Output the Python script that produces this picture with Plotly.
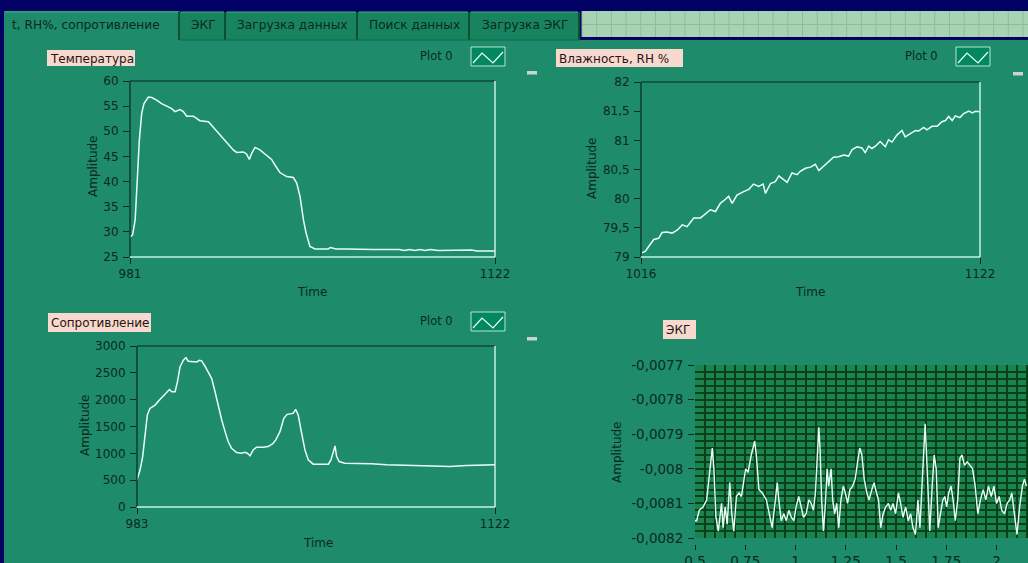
import plotly.graph_objects as go

W, H = 1028, 563
FONT = "DejaVu Sans, Verdana, sans-serif"

# ---------------- data ----------------
temp_time = [981, 982, 983, 983.8, 984.6, 985.5, 986.4, 988.1, 989.4, 991.3, 993.2, 995.2,
             997.1, 998.4, 1000.3, 1001.6, 1002.9, 1005.5, 1008, 1011.3, 1013.2, 1015.8,
             1018.3, 1020.9, 1022.2, 1024.8, 1026, 1027.1, 1028, 1029.3, 1031.2, 1033.8,
             1035.7, 1037, 1038.9, 1041.5, 1044.1, 1045.4, 1046.7, 1048, 1049, 1050.5,
             1052.5, 1055, 1057.6, 1058.4, 1059.6, 1060.6, 1065, 1070, 1075, 1080, 1085,
             1087, 1089, 1091, 1093, 1095, 1097, 1100, 1105, 1110, 1113, 1115, 1122]
temp_value = [29.0, 29.4, 32.4, 40.3, 48.2, 53.5, 55.5, 56.8, 56.7, 56.2, 55.5, 55.0,
              54.5, 53.9, 54.3, 53.9, 53.0, 53.0, 52.1, 51.9, 50.8, 49.2,
              47.9, 46.3, 45.8, 45.9, 45.5, 44.4, 45.6, 46.8, 46.3, 45.3,
              44.4, 43.3, 41.8, 41.0, 40.8, 39.7, 37.0, 32.4, 29.8, 27.1,
              26.6, 26.6, 26.6, 26.9, 26.7, 26.6, 26.6, 26.5, 26.5, 26.5, 26.5,
              26.3, 26.5, 26.3, 26.5, 26.3, 26.5, 26.3, 26.3, 26.3, 26.4, 26.2, 26.2]

hum_time = [1016.3, 1017.4, 1018.4, 1020, 1021.5, 1022.6, 1024.1, 1025.7, 1027.3, 1028.9,
            1030.4, 1032.5, 1034.6, 1036.2, 1037.7, 1039.3, 1040.8, 1042.4, 1043.4, 1044.5,
            1046, 1048.1, 1049.7, 1051.2, 1052.8, 1054.2, 1054.9, 1056.5, 1058, 1059.1,
            1060.6, 1061.7, 1063.2, 1064.8, 1065.8, 1067.4, 1069, 1070.5, 1071.6, 1073.1,
            1074.7, 1076.2, 1077.8, 1079.4, 1080.9, 1082, 1083.5, 1085.1, 1086.1, 1087.2,
            1088.2, 1089.3, 1090.8, 1092.4, 1093.4, 1094.5, 1096, 1097.6, 1098.6, 1100.2,
            1101.8, 1102.8, 1104.4, 1105.4, 1107, 1108.6, 1110.1, 1111.2, 1112.2, 1113.3,
            1114.3, 1115.7, 1116.9, 1118.5, 1119.6, 1120.6, 1122]
hum_value = [79.07, 79.10, 79.18, 79.30, 79.32, 79.42, 79.43, 79.41, 79.46, 79.55,
             79.52, 79.67, 79.67, 79.74, 79.81, 79.78, 79.92, 79.99, 80.04, 79.92,
             80.06, 80.12, 80.16, 80.25, 80.21, 80.25, 80.09, 80.26, 80.29, 80.39,
             80.32, 80.28, 80.44, 80.41, 80.47, 80.52, 80.54, 80.59, 80.48, 80.56,
             80.63, 80.71, 80.72, 80.75, 80.73, 80.84, 80.89, 80.87, 80.79, 80.90,
             80.86, 80.90, 80.98, 80.89, 81.01, 80.97, 81.09, 81.17, 81.06, 81.12,
             81.17, 81.16, 81.22, 81.18, 81.24, 81.24, 81.32, 81.34, 81.41, 81.34,
             81.42, 81.39, 81.46, 81.50, 81.47, 81.50, 81.49]

res_time = [983, 984.2, 985.2, 986.1, 987, 988, 990, 991.9, 993.9, 995.6, 996.5, 997.8,
            998.7, 999.7, 1001, 1002, 1002.9, 1004.9, 1006.2, 1007.2, 1008.1, 1009.4,
            1010.7, 1012, 1013.3, 1014.6, 1015.9, 1017.2, 1018.4, 1019.7, 1021.7, 1023.6,
            1024.9, 1025.8, 1026.9, 1028.1, 1029.4, 1032, 1033.9, 1035.6, 1036.9, 1038.5,
            1040, 1041.3, 1043.6, 1044.6, 1045.6, 1046.8, 1048.2, 1049.5, 1051.4, 1054,
            1057.3, 1058.3, 1059.2, 1059.9, 1060.5, 1061.5, 1063.7, 1069.5, 1074.1, 1079.9,
            1091.5, 1098, 1104.4, 1110.9, 1122]
res_value = [507, 693, 940, 1373, 1713, 1837, 1899, 2004, 2116, 2190, 2147, 2147,
             2332, 2610, 2734, 2784, 2716, 2703, 2703, 2734, 2722, 2623,
             2518, 2394, 2147, 1868, 1621, 1404, 1219, 1095, 1014, 1002,
             1021, 1002, 953, 1064, 1113, 1113, 1126, 1175, 1250, 1404,
             1652, 1726, 1744, 1819, 1713, 1404, 1064, 878, 798, 798,
             798, 878, 1002, 1138, 940, 847, 817, 817, 804, 786,
             773, 755, 755, 773, 786]

ecg_time = [0.500, 0.508, 0.521, 0.541, 0.558, 0.574, 0.586, 0.594, 0.604, 0.616, 0.624,
            0.632, 0.640, 0.650, 0.660, 0.673, 0.683, 0.693, 0.706, 0.719, 0.731, 0.743,
            0.752, 0.764, 0.780, 0.797, 0.805, 0.818, 0.835, 0.855, 0.871, 0.884, 0.898,
            0.909, 0.917, 0.929, 0.942, 0.954, 0.967, 0.979, 0.992, 1.003, 1.016, 1.028,
            1.040, 1.053, 1.066, 1.078, 1.089, 1.099, 1.107, 1.116, 1.122, 1.130, 1.139,
            1.149, 1.157, 1.165, 1.177, 1.185, 1.195, 1.205, 1.215, 1.226, 1.238, 1.248,
            1.259, 1.271, 1.284, 1.297, 1.309, 1.320, 1.330, 1.342, 1.355, 1.366, 1.380,
            1.391, 1.403, 1.413, 1.424, 1.436, 1.449, 1.462, 1.474, 1.485, 1.498, 1.512,
            1.523, 1.535, 1.548, 1.561, 1.573, 1.584, 1.597, 1.609, 1.619, 1.630, 1.639,
            1.645, 1.652, 1.660, 1.668, 1.680, 1.690, 1.700, 1.710, 1.721, 1.733, 1.743,
            1.752, 1.762, 1.774, 1.784, 1.795, 1.807, 1.818, 1.828, 1.841, 1.855, 1.868,
            1.881, 1.894, 1.907, 1.920, 1.934, 1.947, 1.960, 1.974, 1.987, 2.000, 2.013,
            2.026, 2.040, 2.053, 2.066, 2.076, 2.089, 2.102, 2.115, 2.129, 2.139, 2.149]
ecg_value = [-0.00815, -0.00815, -0.00812, -0.00811, -0.00809, -0.00801, -0.00794, -0.00800,
             -0.00814, -0.00818, -0.00813, -0.00810, -0.00817, -0.00811, -0.00816, -0.00804,
             -0.00813, -0.00818, -0.00808, -0.00807, -0.00808, -0.00803, -0.00800, -0.00801,
             -0.00796, -0.00792, -0.00796, -0.00806, -0.00807, -0.00809, -0.00813, -0.00817,
             -0.00810, -0.00804, -0.00809, -0.00815, -0.00813, -0.00815, -0.00812, -0.00814,
             -0.00815, -0.00811, -0.00808, -0.00811, -0.00814, -0.00813, -0.00809, -0.00810,
             -0.00812, -0.00807, -0.00796, -0.00788, -0.00794, -0.00809, -0.00818, -0.00810,
             -0.00800, -0.00805, -0.00800, -0.00809, -0.00813, -0.00810, -0.00817, -0.00809,
             -0.00805, -0.00807, -0.00810, -0.00806, -0.00805, -0.00803, -0.00798, -0.00794,
             -0.00796, -0.00803, -0.00807, -0.00809, -0.00806, -0.00804, -0.00807, -0.00809,
             -0.00817, -0.00813, -0.00811, -0.00810, -0.00812, -0.00810, -0.00813, -0.00807,
             -0.00810, -0.00814, -0.00811, -0.00815, -0.00813, -0.00817, -0.00819, -0.00809,
             -0.00817, -0.00803, -0.00794, -0.00787, -0.00796, -0.00805, -0.00818, -0.00805,
             -0.00796, -0.00800, -0.00817, -0.00813, -0.00809, -0.00808, -0.00811, -0.00807,
             -0.00805, -0.00809, -0.00815, -0.00809, -0.00797, -0.00796, -0.00799, -0.00798,
             -0.00799, -0.00800, -0.00805, -0.00813, -0.00809, -0.00806, -0.00809, -0.00805,
             -0.00808, -0.00805, -0.00810, -0.00808, -0.00812, -0.00813, -0.00810, -0.00809,
             -0.00807, -0.00813, -0.00819, -0.00811, -0.00805, -0.00803, -0.00805]

temp_ticks = [25, 30, 35, 40, 45, 50, 55, 60]
temp_xticks = [981, 1122]
hum_ticks = [79, 79.5, 80, 80.5, 81, 81.5, 82]
hum_ticktext = ["79", "79,5", "80", "80,5", "81", "81,5", "82"]
hum_xticks = [1016, 1122]
res_ticks = [0, 500, 1000, 1500, 2000, 2500, 3000]
res_xticks = [983, 1122]
ecg_ticks = [-0.0082, -0.0081, -0.008, -0.0079, -0.0078, -0.0077]
ecg_ticktext = ["-0,0082", "-0,0081", "-0,008", "-0,0079", "-0,0078", "-0,0077"]
ecg_xticks = [0.5, 0.75, 1, 1.25, 1.5, 1.75, 2]
ecg_xticktext = ["0,5", "0,75", "1", "1,25", "1,5", "1,75", "2"]

tab_labels = ["t, RH%, сопротивление", "ЭКГ", "Загрузка данных", "Поиск данных", "Загрузка ЭКГ"]
graph_titles = ["Температура", "Влажность, RH %", "Сопротивление", "ЭКГ"]
legend_name = "Plot 0"
x_title = "Time"
y_title = "Amplitude"

# ---------------- colours ----------------
NAVY = "#020266"
PANEL = "#1e8b6a"
PLOT_BG = "#03875f"
ECG_BG = "#1a8450"
ECG_GRID = "#0b3f18"
DARK = "#0b2a1c"
LIGHT = "#c4f2e2"
TRACE = "#e8fff6"
LABEL_BG = "#f7d9cf"


def px(x):
    return x / W


def py(y):
    return 1 - y / H


shapes = []
annotations = []


def rect(x0, y0, x1, y1, fill, line=None, lw=0, layer="below"):
    shapes.append(dict(type="rect", xref="paper", yref="paper",
                       x0=px(x0), x1=px(x1), y0=py(y1), y1=py(y0),
                       fillcolor=fill, line=dict(color=line or fill, width=lw), layer=layer))


def seg(x0, y0, x1, y1, color, lw=1, layer="above"):
    shapes.append(dict(type="line", xref="paper", yref="paper",
                       x0=px(x0), x1=px(x1), y0=py(y0), y1=py(y1),
                       line=dict(color=color, width=lw), layer=layer))


def text(x, y, s, size=12, color=DARK, xanchor="left", angle=0):
    annotations.append(dict(x=px(x), y=py(y), xref="paper", yref="paper", text=s,
                            showarrow=False, xanchor=xanchor, yanchor="middle",
                            textangle=angle,
                            font=dict(family=FONT, size=size, color=color)))


# ---------------- front panel ----------------
rect(4, 40, W, H, PANEL)

# tab strip
tab_edges = [(4, 180), (180, 226), (226, 358), (358, 470), (470, 580)]
for i, ((a, b), lab) in enumerate(zip(tab_edges, tab_labels)):
    if i == 0:
        rect(a, 11, b, 42, PANEL)
        text(a + 6, 25, lab, size=12.2)
    else:
        rect(a, 12, b, 40, "#18845f")
        text((a + b) / 2, 25, lab, size=12.2, xanchor="center")
    seg(b - 1, 12, b - 1, 40, "#0c4f37", 2, layer="below")
    seg(a + 1, 12, b - 2, 12, "#3fae86", 1, layer="below")
seg(180, 40, 580, 40, "#0f6a4a", 1, layer="below")

# empty tab area with light grid
rect(582, 11, W, 37, "#a8d3b2")
gx = 582
while gx < W:
    seg(gx, 11, gx, 37, "#8dbd99", 1, layer="below")
    gx += 14.7
seg(582, 24.5, W, 24.5, "#8dbd99", 1, layer="below")

# ---------------- traces ----------------
line_style = dict(color=TRACE, width=1.5)
fig = go.Figure()
fig.add_trace(go.Scatter(x=temp_time, y=temp_value, mode="lines", line=line_style,
                         xaxis="x", yaxis="y", showlegend=False))
fig.add_trace(go.Scatter(x=hum_time, y=hum_value, mode="lines", line=line_style,
                         xaxis="x2", yaxis="y2", showlegend=False))
fig.add_trace(go.Scatter(x=res_time, y=res_value, mode="lines", line=line_style,
                         xaxis="x3", yaxis="y3", showlegend=False))
fig.add_trace(go.Scatter(x=ecg_time, y=ecg_value, mode="lines",
                         line=dict(color=TRACE, width=1.4),
                         xaxis="x4", yaxis="y4", showlegend=False))

tickfont = dict(family=FONT, size=12, color=DARK)


def xax(domain, rng, vals, text_=None, anchor="y"):
    return dict(domain=domain, range=rng, tickmode="array", tickvals=vals,
                ticktext=text_ or [str(v) for v in vals], anchor=anchor,
                showgrid=False, zeroline=False, showline=False, automargin=False,
                ticks="outside", ticklen=6, tickcolor=DARK, tickfont=tickfont,
                fixedrange=True)


def yax(domain, rng, vals, text_=None, anchor="x"):
    return dict(domain=domain, range=rng, tickmode="array", tickvals=vals,
                ticktext=text_ or [str(v) for v in vals], anchor=anchor,
                showgrid=False, zeroline=False, showline=False, automargin=False,
                ticks="outside", ticklen=6, tickcolor=DARK, tickfont=tickfont,
                ticklabelstandoff=2, fixedrange=True)


# plot rectangles (pixel boxes of each graph)
boxes = {
    "temp": (130, 81, 495, 257),
    "hum": (641, 82, 980, 257),
    "res": (137, 346, 495, 507),
    "ecg": (695, 365, W, 538),
}


def dom(b):
    x0, y0, x1, y1 = b
    return [px(x0), min(px(x1), 1)], [py(y1), py(y0)]


tx, ty = dom(boxes["temp"])
hx, hy = dom(boxes["hum"])
rx, ry = dom(boxes["res"])
ex, ey = dom(boxes["ecg"])
ecg_x_end = 0.5 + (W - 695) / 201.0

layout_axes = dict(
    xaxis=xax(tx, [981, 1122], temp_xticks, anchor="y"),
    yaxis=yax(ty, [25, 60], temp_ticks, anchor="x"),
    xaxis2=xax(hx, [1016, 1122], hum_xticks, anchor="y2"),
    yaxis2=yax(hy, [79, 82], hum_ticks, hum_ticktext, anchor="x2"),
    xaxis3=xax(rx, [983, 1122], res_xticks, anchor="y3"),
    yaxis3=yax(ry, [0, 3000], res_ticks, anchor="x3"),
)

ecg_tickfont = dict(family=FONT, size=13.5, color=DARK)
ex_axis = xax(ex, [0.5, ecg_x_end], ecg_xticks, ecg_xticktext)
ex_axis.update(anchor="free", position=py(544), ticklen=5, tickfont=ecg_tickfont,
               ticklabelstandoff=0,
               showgrid=True, gridcolor=ECG_GRID, gridwidth=2,
               minor=dict(tickmode="linear", tick0=0.5, dtick=0.05, showgrid=True,
                          gridcolor=ECG_GRID, gridwidth=2, ticks=""))
ey_axis = yax(ey, [-0.0082, -0.0077], ecg_ticks, ecg_ticktext, anchor="x4")
ey_axis.update(showgrid=True, gridcolor=ECG_GRID, gridwidth=2, tickfont=ecg_tickfont,
               minor=dict(tickmode="linear", tick0=-0.0082, dtick=0.00002, showgrid=True,
                          gridcolor=ECG_GRID, gridwidth=2, ticks=""))
layout_axes["xaxis4"] = ex_axis
layout_axes["yaxis4"] = ey_axis

# ECG plot background
shapes.append(dict(type="rect", xref="x4 domain", yref="y4 domain", x0=0, x1=1, y0=0, y1=1,
                   fillcolor=ECG_BG, line=dict(width=0), layer="below"))

# bevelled frames of the three waveform graphs
for xa, ya in (("x", "y"), ("x2", "y2"), ("x3", "y3")):
    for (x0, y0, x1, y1, c, w) in ((0, 0, 0, 1, DARK, 1.2), (0, 1, 1, 1, DARK, 1.2),
                                   (1, 0, 1, 1, LIGHT, 1.5), (0, 0, 1, 0, LIGHT, 1.5)):
        shapes.append(dict(type="line", xref=f"{xa} domain", yref=f"{ya} domain",
                           x0=x0, x1=x1, y0=y0, y1=y1, line=dict(color=c, width=w),
                           layer="above"))

# graph captions
caption_boxes = [(47, 50, 135, 66), (556, 49, 683, 67), (48, 313, 151, 332), (663, 320, 696, 339)]
for (x0, y0, x1, y1), lab in zip(caption_boxes, graph_titles):
    rect(x0, y0, x1, y1, LABEL_BG, layer="above")
    text(x0 + 1, (y0 + y1) / 2 + 0.5, lab, color="#2a1410")

# plot legends
for (lx, ly) in ((455, 56), (940, 56), (455, 321)):
    text(lx, ly, legend_name, size=11.5, xanchor="right")
    bx0, by0 = lx + 16, ly - 9
    rect(bx0, by0, bx0 + 34, by0 + 19, PLOT_BG, line="#b6e6d4", lw=1, layer="above")
    pts = [(bx0 + 2, by0 + 16), (bx0 + 11, by0 + 6), (bx0 + 22, by0 + 16), (bx0 + 32, by0 + 5)]
    path = "M " + " L ".join(f"{px(a):.5f},{py(b):.5f}" for a, b in pts)
    shapes.append(dict(type="path", xref="paper", yref="paper", path=path,
                       line=dict(color=TRACE, width=1.2), layer="above"))

# small scale-legend handles
for (mx, my) in ((527, 71), (1013, 72), (527, 337)):
    rect(mx, my, mx + 10, my + 3.5, "#c9d3d0", layer="above")

# axis titles
for (cx, cy) in ((93, 166), (592, 168), (85, 425), (617, 452)):
    text(cx, cy, y_title, angle=-90, xanchor="center")
for (cx, cy) in ((312, 292), (810, 292), (318, 543)):
    text(cx, cy, x_title, xanchor="center")

fig.update_layout(
    width=W, height=H,
    margin=dict(l=0, r=0, t=0, b=0, autoexpand=False),
    paper_bgcolor=NAVY, plot_bgcolor=PLOT_BG,
    showlegend=False,
    shapes=shapes, annotations=annotations,
    **layout_axes,
)

fig.write_html("out.html", config={"displayModeBar": False})
